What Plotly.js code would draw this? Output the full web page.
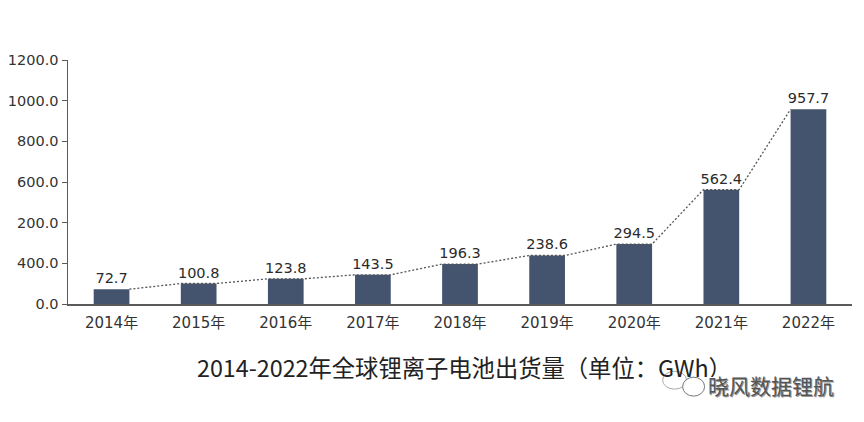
<!DOCTYPE html>
<html><head><meta charset="utf-8">
<script src="https://cdn.plot.ly/plotly-3.0.1.min.js"></script>
<style>html,body{margin:0;padding:0;background:#fff}#c{width:864px;height:422px}</style>
</head><body><div id="c"></div>
<script>
const categories=['2014年','2015年','2016年','2017年','2018年','2019年','2020年','2021年','2022年'];
const values=[72.7,100.8,123.8,143.5,196.3,238.6,294.5,562.4,957.7];
const valueLabels=['72.7','100.8','123.8','143.5','196.3','238.6','294.5','562.4','957.7'];
const yTickVals=[0,200,400,600,800,1000,1200];
const yTickText=['0.0','400.0','200.0','600.0','800.0','1000.0','1200.0'];
const chartTitle='2014-2022年全球锂离子电池出货量（单位：GWh）';
const watermark='晓风数据锂航';
const barWidth=0.41;
const idx=categories.map((_,i)=>i);
const lineX=idx.flatMap(i=>[i+barWidth/2,i+1-barWidth/2]).slice(0,-2);
const lineY=values.slice(0,-1).flatMap((v,i)=>[v,values[i+1]]);
const font='"DejaVu Sans","Noto Sans CJK SC",sans-serif';
const cjk='"Noto Sans CJK SC",sans-serif';
const L=68,R=852.5,T=59.5,B=304.5;
const px=x=>(x-L)/(R-L), py=y=>(B-y)/(B-T);
const bubble=(x0,x1,y0,y1,c)=>({type:'circle',xref:'paper',yref:'paper',x0:px(x0),x1:px(x1),y0:py(y1),y1:py(y0),
  line:{color:c,width:1},fillcolor:'rgba(255,255,255,0.8)'});
Plotly.newPlot('c',[
 {type:'bar',x:idx,y:values,width:barWidth,text:valueLabels,textposition:'outside',cliponaxis:false,constraintext:'none',
  textfont:{family:font,size:14.5,color:'#2b2b2b'},marker:{color:'#44546f',line:{width:0}},hoverinfo:'skip'},
 {type:'scatter',mode:'lines',x:lineX,y:lineY,line:{color:'#555555',width:1.3,dash:'2px,2px'},hoverinfo:'skip'}
],{
 width:864,height:422,showlegend:false,paper_bgcolor:'#fff',plot_bgcolor:'#fff',
 margin:{l:L,r:864-R,t:T,b:422-B},
 xaxis:{range:[-0.5,8.5],tickvals:idx,ticktext:categories,ticks:'',showgrid:false,zeroline:false,ticklabelstandoff:4,
  showline:true,linecolor:'#5a5a5a',linewidth:1.5,tickfont:{family:font,size:15,color:'#333'}},
 yaxis:{range:[0,1200],tickvals:yTickVals,ticktext:yTickText,ticks:'outside',ticklen:5,tickcolor:'#5a5a5a',tickwidth:1,
  showgrid:false,zeroline:false,showline:true,linecolor:'#5a5a5a',linewidth:1.5,tickfont:{family:font,size:14.5,color:'#333'}},
 title:{text:chartTitle,x:197/864,xanchor:'left',y:1-369/422,yanchor:'middle',font:{family:cjk,size:23.3,color:'#222'}},
 shapes:[bubble(663,687,372,390,'#aaaaaa'),bubble(683,705,378,397,'#777777')],
 annotations:[{xref:'paper',yref:'paper',x:px(771),y:py(386),xanchor:'center',yanchor:'middle',showarrow:false,
  text:watermark,font:{family:cjk,size:21,color:'#555',shadow:'1px 1px 0 #999, -1px -1px 0 #fff'}}]
},{displayModeBar:false,staticPlot:true});
</script></body></html>
